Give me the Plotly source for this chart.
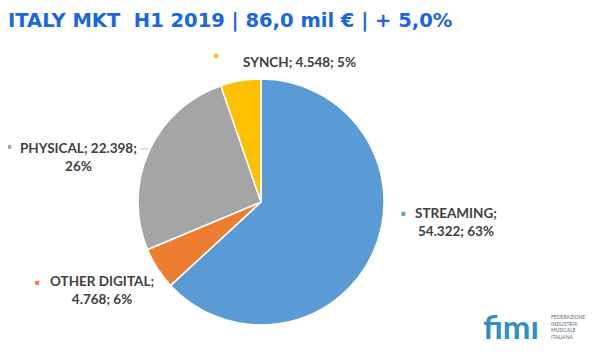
import plotly.graph_objects as go

# ---- data ----
categories = ["STREAMING", "OTHER DIGITAL", "PHYSICAL", "SYNCH"]
values = [54322, 4768, 22398, 4548]  # thousand €
colors = ["#5B9BD5", "#ED7D31", "#A5A5A5", "#FFC000"]
title_text = "ITALY MKT  H1 2019 | 86,0 mil € | + 5,0%"

# page has an 8px body margin: figure is 592x350 so the page is 600x358
OFF = 8
W, H = 600 - OFF, 358 - OFF


def px(x):
    return (x - OFF) / W


def py(y):
    return 1 - (y - OFF) / H


def fmt(v):
    return f"{v:,}".replace(",", ".")


total = sum(values)
pcts = [round(v / total * 100) for v in values]

fig = go.Figure()
fig.add_trace(go.Pie(
    labels=categories,
    values=values,
    sort=False,
    direction="clockwise",
    rotation=0,
    marker=dict(colors=colors, line=dict(color="white", width=1.5)),
    textinfo="none",
    hoverinfo="label+value+percent",
    domain=dict(x=[px(261 - 123), px(261 + 123)], y=[py(202 + 123), py(202 - 123)]),
    showlegend=False,
))

# label layout: (center x, center y, marker x, marker y, break after piece index)
label_pos = {
    "STREAMING": (456, 222, 403, 212, 0),
    "OTHER DIGITAL": (102, 290, 37, 281, 0),
    "PHYSICAL": (78, 157, 9, 145, 1),
    "SYNCH": (299, 62, 217, 54, None),
}

annotations = []
for cat, v, p, c in zip(categories, values, pcts, colors):
    cx, cy, mx, my, brk = label_pos[cat]
    pieces = [cat, fmt(v), f"{p}%"]
    txt = ""
    for i, pc in enumerate(pieces):
        txt += pc
        if i < len(pieces) - 1:
            txt += ";" + ("<br>" if brk == i else " ")
    annotations.append(dict(
        x=px(cx), y=py(cy), xref="paper", yref="paper", text=f"<b>{txt}</b>",
        showarrow=False, align="center", xanchor="center", yanchor="middle",
        font=dict(family="Lato, Open Sans, sans-serif", size=13.5, color="#404040"),
    ))
    annotations.append(dict(
        x=px(mx), y=py(my), xref="paper", yref="paper", text="■",
        showarrow=False, xanchor="center", yanchor="middle",
        font=dict(size=8, color=c),
    ))

# logo
annotations.append(dict(
    x=px(511), y=py(326), xref="paper", yref="paper", text="<b>fimı</b>",
    showarrow=False, xanchor="center", yanchor="middle",
    font=dict(family="Lato, sans-serif", size=33, color="#2f8fc4"),
))
annotations.append(dict(
    x=px(549), y=py(327), xref="paper", yref="paper",
    text="FEDERAZIONE<br>INDUSTRIA<br>MUSICALE<br>ITALIANA",
    showarrow=False, xanchor="left", yanchor="middle", align="left",
    font=dict(family="Lato, sans-serif", size=5, color="#5a6a7a"),
))

fig.update_layout(
    width=W, height=H,
    margin=dict(l=0, r=0, t=0, b=0),
    paper_bgcolor="white",
    plot_bgcolor="white",
    title=dict(
        text=f"<b>{title_text}</b>", x=0, xanchor="left", y=py(20), yanchor="middle",
        font=dict(family="DejaVu Sans, Verdana, sans-serif", size=19.5, color="#1A66E0"),
    ),
    annotations=annotations,
    shapes=[dict(type="line", xref="paper", yref="paper",
                 x0=px(140), x1=px(148), y0=py(149), y1=py(149),
                 line=dict(color="#BFBFBF", width=1))],
)

fig.write_html("out.html")
